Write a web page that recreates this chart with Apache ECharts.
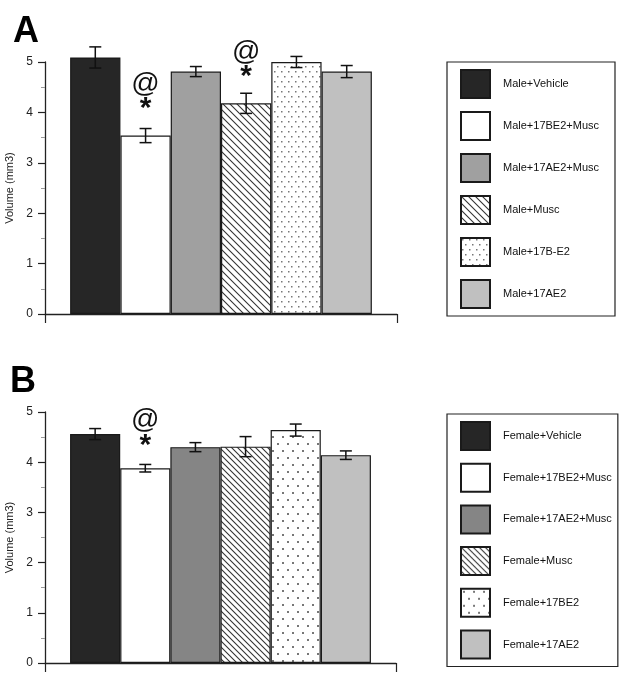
<!DOCTYPE html>
<html><head><meta charset="utf-8">
<script src="https://cdn.jsdelivr.net/npm/echarts@6/dist/echarts.min.js"></script>
<style>html,body{margin:0;padding:0;background:#fff}#c{width:630px;height:676px}</style>
</head><body><div id="c"></div>
<script>
// ---- data ----
const slots = ['', 'g1', 'g2', 'g3', 'g4', 'g5', 'g6', ''];
const namesA = ['Male+Vehicle', 'Male+17BE2+Musc', 'Male+17AE2+Musc', 'Male+Musc', 'Male+17B-E2', 'Male+17AE2'];
const namesB = ['Female+Vehicle', 'Female+17BE2+Musc', 'Female+17AE2+Musc', 'Female+Musc', 'Female+17BE2', 'Female+17AE2'];
const meansA = [5.09, 3.54, 4.81, 4.18, 5.00, 4.81];
const errA = [0.21, 0.14, 0.10, 0.20, 0.11, 0.12];
const meansB = [4.56, 3.88, 4.30, 4.31, 4.64, 4.14];
const errB = [0.11, 0.075, 0.09, 0.20, 0.12, 0.085];
const marksA = ['', '@\n*', '', '@\n*', '', ''];
const marksB = ['', '@\n*', '', '', '', ''];
const yMin = 0, yMax = 5, yStep = 1;

// ---- patterns ----
function hatch(size) {
  const c = document.createElement('canvas'); c.width = size; c.height = size;
  const g = c.getContext('2d'); g.fillStyle = '#fff'; g.fillRect(0, 0, size, size);
  g.strokeStyle = '#333'; g.lineWidth = 1.1;
  for (const k of [-size, 0, size]) { g.beginPath(); g.moveTo(k - 1, -1); g.lineTo(k + size + 1, size + 1); g.stroke(); }
  return { image: c, repeat: 'repeat' };
}
function dots(w, h, d, s) {
  const c = document.createElement('canvas'); c.width = w; c.height = h;
  const g = c.getContext('2d'); g.fillStyle = '#fff'; g.fillRect(0, 0, w, h);
  g.fillStyle = '#777';
  g.fillRect(d[0], d[1], s, s); g.fillRect(d[2], d[3], s, s);
  return { image: c, repeat: 'repeat' };
}
const fillsA = ['#262626', '#ffffff', '#a0a0a0', hatch(7), dots(7, 10, [1, 1, 4, 6], 1.5), '#c0c0c0'];
const fillsB = ['#262626', '#ffffff', '#858585', hatch(6), dots(10, 14, [2, 2, 7, 9], 2), '#c0c0c0'];

const chart = echarts.init(document.getElementById('c'), null, { renderer: 'canvas' });

function yAxis(gi) {
  return {
    type: 'value', gridIndex: gi, min: yMin, max: yMax, interval: yStep,
    name: 'Volume (mm3)', nameLocation: 'middle', nameGap: 23,
    nameTextStyle: { fontFamily: 'Arial', fontSize: 11, color: '#222' },
    axisLine: { show: true, lineStyle: { color: '#222', width: 1.3 } },
    axisTick: { show: true, length: 7, lineStyle: { color: '#222', width: 1.2 } },
    minorTick: { show: true, splitNumber: 2, length: 4, lineStyle: { color: '#999', width: 1 } },
    axisLabel: { margin: 12, fontFamily: 'Arial', fontSize: 12, color: '#222' },
    splitLine: { show: false }
  };
}
function xAxis(gi) {
  return {
    type: 'category', gridIndex: gi, data: slots, boundaryGap: false,
    axisLine: { show: true, lineStyle: { color: '#222', width: 1.3 } },
    axisTick: { show: true, length: 9, interval: (i) => i === 0 || i === slots.length - 1, lineStyle: { color: '#222', width: 1.2 } },
    axisLabel: { show: false }, splitLine: { show: false }
  };
}
function barSeries(gi, names, means, fills, marks, dist) {
  return names.map((nm, i) => {
    const data = slots.map(() => '-');
    const item = { value: means[i] };
    if (marks[i]) {
      item.label = {
        show: true, position: 'top', distance: dist, formatter: '{a|@}\n{b|*}',
        rich: {
          a: { fontFamily: 'Arial', fontSize: 28, lineHeight: 25, color: '#111' },
          b: { fontFamily: 'Arial', fontSize: 30, fontWeight: 'bold', lineHeight: 25, color: '#111' }
        }
      };
    }
    data[i + 1] = item;
    return {
      type: 'bar', name: nm, xAxisIndex: gi, yAxisIndex: gi, data,
      barWidth: '100%', barGap: '-100%', clip: false,
      itemStyle: { color: fills[i], borderColor: '#1a1a1a', borderWidth: 1.2 },
      emphasis: { disabled: true }, animation: false
    };
  });
}
function errSeries(gi, means, errs) {
  const data = means.map((m, i) => [i + 1, m - errs[i], m + errs[i]]);
  return {
    type: 'custom', xAxisIndex: gi, yAxisIndex: gi, data, clip: false, z: 5,
    encode: { x: 0, y: [1, 2] },
    renderItem: (params, api) => {
      const top = api.coord([api.value(0), api.value(2)]);
      const bot = api.coord([api.value(0), api.value(1)]);
      const hw = 6, st = { stroke: '#111', lineWidth: 1.5 };
      return { type: 'group', children: [
        { type: 'line', shape: { x1: top[0], y1: top[1], x2: bot[0], y2: bot[1] }, style: st },
        { type: 'line', shape: { x1: top[0] - hw, y1: top[1], x2: top[0] + hw, y2: top[1] }, style: st },
        { type: 'line', shape: { x1: bot[0] - hw, y1: bot[1], x2: bot[0] + hw, y2: bot[1] }, style: st }
      ] };
    }, animation: false
  };
}
function legend(names, top, padRight, gap) {
  return {
    data: names, orient: 'vertical', left: 447, top: top, icon: 'rect',
    itemWidth: 29, itemHeight: 28, itemGap: gap, selectedMode: false,
    padding: [7, padRight, 7, 13], borderColor: '#222', borderWidth: 1.2,
    textStyle: { fontFamily: 'Arial', fontSize: 11, color: '#111', padding: [0, 0, 0, 8] }
  };
}

chart.setOption({
  animation: false,
  graphic: [
    { type: 'text', left: 13, top: 14, style: { text: 'A', font: 'bold 36px Arial', fill: '#000' } },
    { type: 'text', left: 10, top: 364, style: { text: 'B', font: 'bold 36px Arial', fill: '#000' } }
  ],
  grid: [
    { left: 45, right: 233, top: 62, bottom: 362, containLabel: false, outerBoundsMode: 'none' },
    { left: 45, right: 234, top: 412, bottom: 13, containLabel: false, outerBoundsMode: 'none' }
  ],
  xAxis: [xAxis(0), xAxis(1)],
  yAxis: [yAxis(0), yAxis(1)],
  legend: [legend(namesA, 62, 16, 12), legend(namesB, 414, 6, 11.7)],
  series: [
    ...barSeries(0, namesA, meansA, fillsA, marksA, 14),
    errSeries(0, meansA, errA),
    ...barSeries(1, namesB, meansB, fillsB, marksB, 10),
    errSeries(1, meansB, errB)
  ]
});
</script></body></html>
